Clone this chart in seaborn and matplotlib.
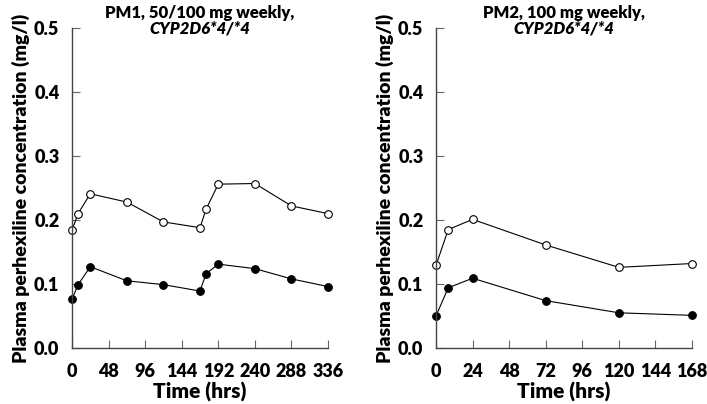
import pandas as pd
import seaborn as sns
from matplotlib import pyplot as plt

# PM1, 50/100 mg weekly
pm1_time = [0, 8, 24, 72, 120, 168, 176, 192, 240, 288, 336]
pm1_open = [0.184, 0.210, 0.241, 0.228, 0.197, 0.188, 0.217, 0.256, 0.257, 0.222, 0.210]
pm1_filled = [0.076, 0.099, 0.127, 0.105, 0.099, 0.089, 0.116, 0.131, 0.124, 0.108, 0.096]
pm1_ticks = [0, 48, 96, 144, 192, 240, 288, 336]

# PM2, 100 mg weekly
pm2_time = [0, 8, 24, 72, 120, 168]
pm2_open = [0.129, 0.185, 0.201, 0.161, 0.126, 0.132]
pm2_filled = [0.050, 0.094, 0.109, 0.074, 0.055, 0.051]
pm2_ticks = [0, 24, 48, 72, 96, 120, 144, 168]

y_ticks = [0.0, 0.1, 0.2, 0.3, 0.4, 0.5]
titles = ["PM1, 50/100 mg weekly,", "PM2, 100 mg weekly,"]
genotype = "CYP2D6*4/*4"

sns.set_style("ticks")
plt.rcParams["font.family"] = ["Lato", "DejaVu Sans"]
plt.rcParams["text.color"] = "black"
plt.rcParams["axes.labelcolor"] = "black"
plt.rcParams["xtick.labelcolor"] = "black"
plt.rcParams["ytick.labelcolor"] = "black"
WEIGHT = "heavy"


def _panel(ax, time, opened, filled, xticks, title):
    df = pd.DataFrame({"time": time, "open": opened, "filled": filled})
    common = dict(color="black", linewidth=0.8, marker="o", markersize=5.5,
                  markeredgecolor="black", markeredgewidth=0.8, clip_on=False)
    sns.lineplot(data=df, x="time", y="open", ax=ax, markerfacecolor="white", **common)
    sns.lineplot(data=df, x="time", y="filled", ax=ax, markerfacecolor="black", **common)

    ax.set_xlim(xticks[0], xticks[-1])
    ax.set_ylim(0, 0.5)
    ax.set_xticks(xticks)
    ax.set_yticks(y_ticks)
    ax.set_yticklabels(["{:.1f}".format(v) for v in y_ticks])
    sns.despine(ax=ax)
    for side in ["left", "bottom"]:
        ax.spines[side].set_color("#444444")
        ax.spines[side].set_linewidth(1.0)
    ax.tick_params(direction="in", length=6, width=0.8, color="#666666", labelsize=13)
    ax.tick_params(axis="x", pad=11)
    ax.tick_params(axis="y", pad=9)
    for lbl in ax.get_xticklabels() + ax.get_yticklabels():
        lbl.set_fontweight(WEIGHT)

    ax.set_xlabel("Time (hrs)", fontsize=15, fontweight=WEIGHT, labelpad=1)
    ax.set_ylabel("Plasma perhexiline concentration (mg/l)", fontsize=14,
                  fontweight=WEIGHT, labelpad=3)
    ax.text(0.5, 1.03, title, transform=ax.transAxes, ha="center", va="baseline",
            fontsize=12, fontweight=WEIGHT)
    ax.text(0.5, 0.982, genotype, transform=ax.transAxes, ha="center", va="baseline",
            fontsize=12, fontweight=WEIGHT, fontstyle="italic")


fig = plt.figure(figsize=(7.07, 4.04), dpi=100)
ax1 = fig.add_axes([72 / 707, 56 / 404, 256 / 707, 320 / 404])
ax2 = fig.add_axes([436 / 707, 56 / 404, 256 / 707, 320 / 404])

_panel(ax1, pm1_time, pm1_open, pm1_filled, pm1_ticks, titles[0])
_panel(ax2, pm2_time, pm2_open, pm2_filled, pm2_ticks, titles[1])

fig.savefig("out.png", dpi=100)
